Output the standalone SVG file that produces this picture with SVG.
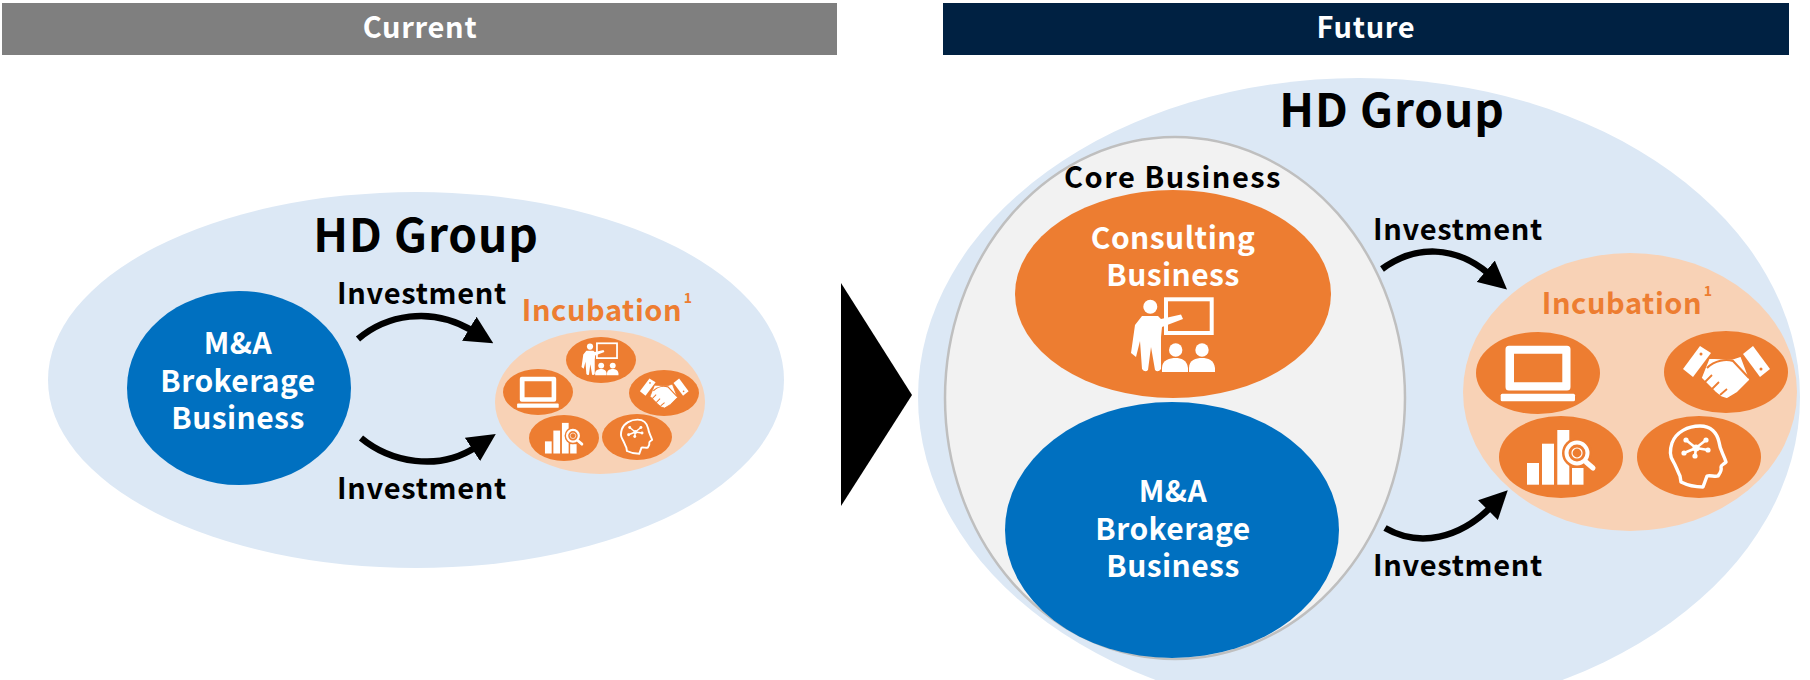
<svg xmlns="http://www.w3.org/2000/svg" width="1810" height="680" viewBox="0 0 1810 680">
<style>
text{font-family:"Noto Sans CJK JP","Noto Sans",sans-serif;font-weight:700;text-anchor:middle}
.hd{font-size:46px;fill:#000;letter-spacing:.9px}
.inv{font-size:29px;fill:#000;letter-spacing:.7px}
.core{font-size:29px;fill:#000;letter-spacing:1.5px}
.w{font-size:30px;fill:#fff;letter-spacing:.45px}
.inc{font-size:29px;fill:#ed7d31;letter-spacing:.6px}
.sup{font-size:14px;fill:#ed7d31}
.head{font-size:29px;fill:#fff;letter-spacing:.7px}
.o{fill:#ed7d31}
.b{fill:#0070c0}
.pale{fill:#dce8f5}
.peach{fill:#f8d2b6}
.con{fill:none;stroke:#000;stroke-width:6.5;marker-end:url(#ah)}
</style>
<defs>
<marker id="ah" markerUnits="userSpaceOnUse" markerWidth="28" markerHeight="28" viewBox="0 0 26 26" refX="4" refY="13" orient="auto"><path d="M0 0L26 13L0 26z" fill="#000"/></marker>
<g id="laptop">
<path fill="#fff" fill-rule="evenodd" d="M-29-27.3H29a3.5 3.5 0 0 1 3.5 3.500V14a3.500 3.500 0 0 1-3.500 3.500H-29a3.500 3.500 0 0 1-3.500-3.500V-23.800a3.500 3.500 0 0 1 3.500-3.500zM-24-19.300V9.300H24.300V-19.300z"/>
<rect x="-37.300" y="20.700" width="74.300" height="7.600" rx="1.500" fill="#fff"/>
</g>
<g id="shake">
<path fill="#fff" d="M-26-26L-15-19-33 5-43-3z"/>
<path fill="#fff" d="M27-26L44-3 34 5 17-18z"/>
<path fill="#fff" stroke="#ed7d31" stroke-width="1.500" d="M-17-14L6-13 15-16 24 8 11 21 1 27-5 25-11 20-17 14-25 6-21-4z"/>
<path d="M-19-4C-11-12 0-13 7-11L23 6" fill="none" stroke="#ed7d31" stroke-width="2"/>
<path d="M-21 10L-14 3M-14 17L-7 10M-6 23L1 17" fill="none" stroke="#ed7d31" stroke-width="1.800"/>
<circle cx="-25" cy="-18" r="1.500" class="o"/><circle cx="35" cy="-3" r="1.500" class="o"/>
</g>
<g id="chart">
<g fill="#fff">
<rect x="-34" y="6" width="12" height="21.700"/>
<rect x="-19" y="-13.300" width="12" height="41"/>
<rect x="-3.700" y="-27" width="12" height="54.700"/>
<rect x="11" y="11" width="11.500" height="16.700"/>
</g>
<circle cx="16" cy="-4" r="15" class="o"/>
<circle cx="16" cy="-4" r="10.500" fill="none" stroke="#fff" stroke-width="4"/>
<circle cx="16" cy="-4" r="5" fill="none" stroke="#fff" stroke-width="1.200"/>
<path d="M25 5L32 11" stroke="#fff" stroke-width="5" stroke-linecap="round"/>
</g>
<g id="brain">
<path d="M-19 19C-22 13-23 9-26 4C-30-2-29-8-27-14C-23-25-11-31 1-31C12-31 18-24 20-15C21-7 24-4 27 5C25 7 22 8 22 10C23 14 21 16 19 19C16 20 11 18 8 19L4 30C-5 30-12 28-18 25z" fill="none" stroke="#fff" stroke-width="3.400" stroke-linejoin="round"/>
<g stroke="#fff" stroke-width="2.600" fill="none"><path d="M-3-9L-13-17M-3-9L7-17M-3-9L9-7M-3-9L-15-4M-3-9L-4-1"/></g>
<g fill="#fff"><circle cx="-3" cy="-9" r="3.500"/><circle cx="-13" cy="-17" r="2.600"/><circle cx="7" cy="-17" r="2.600"/><circle cx="9" cy="-7" r="2.600"/><circle cx="-15" cy="-4" r="2.600"/><circle cx="-4" cy="-1" r="2.600"/></g>
</g>
<g id="presenter">
<rect x="-7" y="-35.700" width="45.700" height="33.700" fill="none" stroke="#fff" stroke-width="4"/>
<g fill="#fff">
<circle cx="-22.700" cy="-28.300" r="7"/>
<path d="M-31-19L-15-19-12-16 8-20.500 10-16-11-8-12 2-12 34Q-15 38-18 35L-22 12-25 35Q-28 38-31 34L-33 6-37 22-42 18-38-10z"/>
<circle cx="2.700" cy="15" r="6.700"/><circle cx="29" cy="15" r="6.700"/>
<path d="M-11 37V33C-11 25-3 23 2.700 23C8 23 14 25 15 33V37z"/>
<path d="M16 37V33C16 25 23 23 29 23C35 23 41 25 42 33V37z"/>
</g>
</g>
</defs>

<g id="header-current"><rect x="2" y="3" width="835" height="52" fill="#7f7f7f"/><text class="head" x="420" y="38">Current</text></g>
<g id="header-future"><rect x="943" y="3" width="846" height="52" fill="#002142"/><text class="head" x="1366" y="38">Future</text></g>

<g id="current-group"><ellipse class="pale" cx="416" cy="380" rx="368" ry="188"/><text class="hd" x="426" y="252">HD Group</text></g>
<g id="current-mna"><ellipse class="b" cx="239" cy="388" rx="112" ry="97"/>
<text class="w" x="238" y="354">M&amp;A</text><text class="w" x="238" y="392">Brokerage</text><text class="w" x="238" y="429">Business</text></g>
<g id="current-incubation">
<text class="inc" x="602" y="321">Incubation</text><text class="sup" x="688" y="303">1</text>
<ellipse class="peach" cx="600" cy="402" rx="105" ry="72"/>
<ellipse class="o" cx="601" cy="360" rx="35" ry="23"/><use href="#presenter" transform="translate(600 359) scale(.44)"/>
<ellipse class="o" cx="538" cy="392" rx="35" ry="23"/><use href="#laptop" transform="translate(538 392) scale(.56)"/>
<ellipse class="o" cx="664" cy="393" rx="35" ry="23"/><use href="#shake" transform="translate(664 393) scale(.56)"/>
<ellipse class="o" cx="564" cy="438" rx="35" ry="23"/><use href="#chart" transform="translate(564 438) scale(.56)"/>
<ellipse class="o" cx="637" cy="437" rx="35" ry="23"/><use href="#brain" transform="translate(637 437) scale(.56)"/>
</g>

<polygon id="transition" points="841,283 912,395 841,506" fill="#000"/>

<g id="future-group"><ellipse class="pale" cx="1359" cy="397" rx="441" ry="319"/><text class="hd" x="1392" y="127">HD Group</text></g>
<g id="core-business"><ellipse cx="1175" cy="398" rx="230" ry="261" fill="#f2f2f2" stroke="#bfbfbf" stroke-width="2.500"/><text class="core" x="1173" y="188">Core Business</text></g>
<g id="future-consulting"><ellipse class="o" cx="1173" cy="294" rx="158" ry="104"/>
<text class="w" x="1173" y="249">Consulting</text><text class="w" x="1173" y="286">Business</text>
<use href="#presenter" transform="translate(1173 335)"/></g>
<g id="future-mna"><ellipse class="b" cx="1172" cy="530" rx="167" ry="128"/>
<text class="w" x="1173" y="502">M&amp;A</text><text class="w" x="1173" y="540">Brokerage</text><text class="w" x="1173" y="577">Business</text></g>
<g id="future-incubation">
<ellipse class="peach" cx="1630" cy="392" rx="167" ry="139"/>
<text class="inc" x="1622" y="314">Incubation</text><text class="sup" x="1708" y="296">1</text>
<ellipse class="o" cx="1538" cy="373" rx="62" ry="41"/><use href="#laptop" transform="translate(1538 373)"/>
<ellipse class="o" cx="1726" cy="372" rx="62" ry="41"/><use href="#shake" transform="translate(1726 372)"/>
<ellipse class="o" cx="1561" cy="457" rx="62" ry="41"/><use href="#chart" transform="translate(1561 457)"/>
<ellipse class="o" cx="1699" cy="457" rx="62" ry="41"/><use href="#brain" transform="translate(1699 457)"/>
</g>

<g id="connectors">
<path class="con" d="M358 339C385 316 430 305 473 331"/>
<path class="con" d="M361 438C390 462 438 472 476 447"/>
<path class="con" d="M1382 269C1415 245 1455 245 1489 274"/>
<path class="con" d="M1385 528C1420 548 1460 538 1491 507"/>
</g>
<g id="connector-labels">
<text class="inv" x="422" y="304">Investment</text>
<text class="inv" x="422" y="499">Investment</text>
<text class="inv" x="1458" y="240">Investment</text>
<text class="inv" x="1458" y="576">Investment</text>
</g>
</svg>
